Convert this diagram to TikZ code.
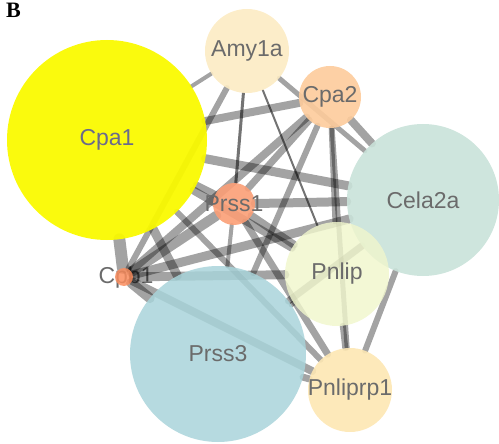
\documentclass[tikz,border=0pt]{standalone}
\usepackage{fontspec}
\setmainfont{Liberation Sans}
\newfontfamily\serifbold{Liberation Serif}
\pgfdeclarelayer{under}
\pgfdeclarelayer{edges}
\pgfsetlayers{under,edges,main}
\definecolor{cYel}{HTML}{FAFA00}
\definecolor{cAmy}{HTML}{FCEBC3}
\definecolor{cCpa2}{HTML}{FDCB9B}
\definecolor{cCela}{HTML}{C9E2D9}
\definecolor{cPrss1}{HTML}{FB9E76}
\definecolor{cCpb1}{HTML}{FA8D5E}
\definecolor{cPrss3}{HTML}{A9D4DA}
\definecolor{cPnlip}{HTML}{F0F6CC}
\definecolor{cPnrp}{HTML}{FDE7B3}
\definecolor{labgray}{HTML}{6B6B6B}
\definecolor{labblue}{HTML}{6A6A8C}
\begin{document}
\begin{tikzpicture}[x=1pt,y=-1pt,
  gene/.style={circle, inner sep=0pt, fill opacity=0.9},
  lab/.style={text=labgray, font=\fontsize{23}{26}\selectfont, inner sep=0pt, text opacity=1, fill opacity=1},
  edge/.style={draw=black, draw opacity=0.36, line cap=round}]
\useasboundingbox (0,0) rectangle (499,444);
\node[font=\serifbold\bfseries\fontsize{22}{24}\selectfont, anchor=base west, inner sep=0pt] (blab) at (6,18) {B};
\node[gene, minimum size=200pt, fill=cYel, fill opacity=0.95, label={[lab, text=labblue]center:Cpa1}] (cpa1) at (107,140) {};
\node[gene, minimum size=84pt, fill=cAmy, label={[lab]center:Amy1a}] (amy) at (247,51) {};
\node[gene, minimum size=62pt, fill=cCpa2, label={[lab]center:Cpa2}] (cpa2) at (330,97) {};
\node[gene, minimum size=152pt, fill=cCela, label={[lab]center:Cela2a}] (cela) at (423,200) {};
\node[gene, minimum size=42pt, fill=cPrss1, label={[lab]center:Prss1}] (prss1) at (234,204) {};
\node[gene, minimum size=18pt, fill=cCpb1, fill opacity=0.85] (cpb1) at (124,277) {};
\node[gene, minimum size=176pt, fill=cPrss3, fill opacity=0.85, label={[lab]center:Prss3}] (prss3) at (218,354) {};
\node[gene, minimum size=104pt, fill=cPnlip, fill opacity=0.82, label={[lab]center:Pnlip}] (pnlip) at (337,274) {};
\node[gene, minimum size=84pt, fill=cPnrp, label={[lab]center:Pnliprp1}] (pnrp) at (350,390) {};
\begin{pgfonlayer}{under}
\node[lab] (cpb1lab) at (126,278) {Cpb1};
\end{pgfonlayer}
\begin{pgfonlayer}{edges}
\draw[edge, line width=4pt] (cpa1) -- (amy);
\draw[edge, line width=8pt] (cpa1) -- (cpa2);
\draw[edge, line width=9pt] (cpa1) -- (cela);
\draw[edge, line width=7pt] (cpa1) -- (prss1);
\draw[edge, line width=12pt] (cpa1) -- (cpb1);
\draw[edge, line width=9pt] (cpa1) -- (prss3);
\draw[edge, line width=8pt] (cpa1) -- (pnlip);
\draw[edge, line width=6pt] (cpa1) -- (pnrp);
\draw[edge, line width=5pt] (amy) -- (cela);
\draw[edge, line width=6pt] (amy) -- (cpb1);
\draw[edge, line width=3pt, draw opacity=0.55] (amy) -- (prss1);
\draw[edge, line width=2pt, draw opacity=0.55] (amy) -- (pnlip);
\draw[edge, line width=8pt] (cpa2) -- (cela);
\draw[edge, line width=7pt] (cpa2) -- (prss1);
\draw[edge, line width=8pt] (cpa2) -- (cpb1);
\draw[edge, line width=6pt] (cpa2) -- (prss3);
\draw[edge, line width=5pt] (cpa2) -- (pnlip);
\draw[edge, line width=5pt] (cpa2) -- (pnrp);
\draw[edge, line width=9pt] (cela) -- (prss1);
\draw[edge, line width=9pt] (cela) -- (cpb1);
\draw[edge, line width=7pt] (cela) -- (prss3);
\draw[edge, line width=6pt] (cela) -- (pnrp);
\draw[edge, line width=10pt] (prss1) -- (cpb1);
\draw[edge, line width=4pt] (prss1) -- (prss3);
\draw[edge, line width=8pt] (prss1) -- (pnlip);
\draw[edge, line width=7pt] (prss1) -- (pnrp);
\draw[edge, line width=10pt] (cpb1) -- (prss3);
\draw[edge, line width=9pt] (cpb1) -- (pnlip);
\draw[edge, line width=8pt] (cpb1) -- (pnrp);
\draw[edge, line width=5pt] (prss3) -- (pnlip);
\draw[edge, line width=7pt] (prss3) -- (pnrp);
\draw[edge, line width=6pt] (pnlip) -- (pnrp);
\end{pgfonlayer}
\end{tikzpicture}
\end{document}
